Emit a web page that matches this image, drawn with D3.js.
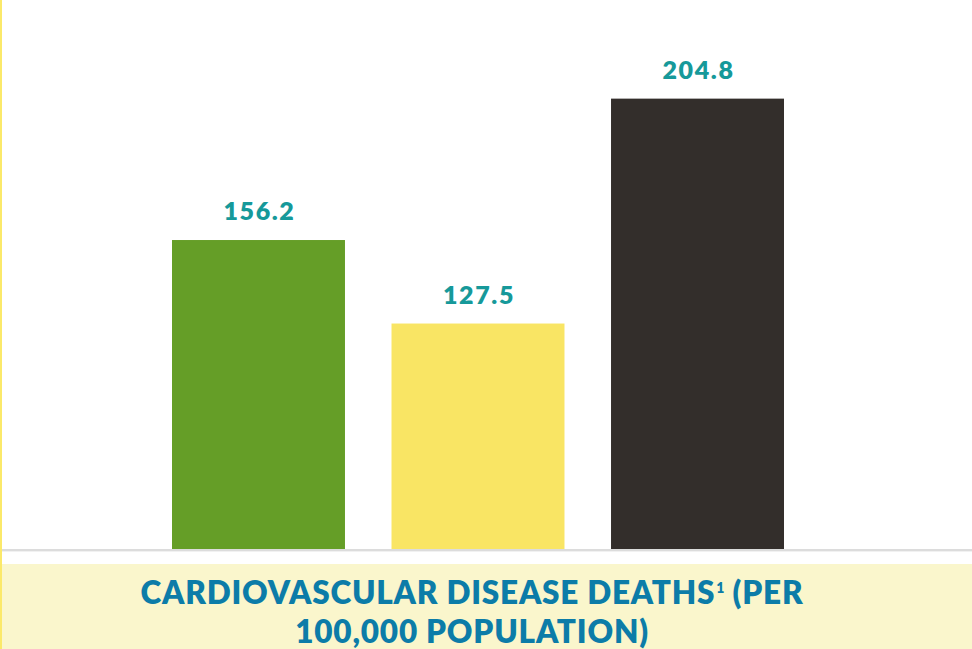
<!DOCTYPE html>
<html>
<head>
<meta charset="utf-8">
<script src="https://cdn.jsdelivr.net/npm/d3@7/dist/d3.min.js"></script>
<style>
  html, body { margin: 0; padding: 0; background: #ffffff; }
  svg { display: block; }
</style>
</head>
<body>
<svg id="chart" width="972" height="649"></svg>
<script>
// Cardiovascular disease deaths per 100,000 population
const categories = ["Group A", "Group B", "Group C"];
const values = [156.2, 127.5, 204.8];
const barColors = ["#659e27", "#f9e564", "#332e2b"];
const valueLabels = ["156.2", "127.5", "204.8"];
const titleLines = [["CARDIOVASCULAR DISEASE DEATHS", "1", " (PER"], ["100,000 POPULATION)"]];

const W = 972, H = 649;
const svg = d3.select("#chart");

const baseY = 549;
const x = d3.scaleBand().domain(categories).range([172, 784]).paddingInner(0.212).paddingOuter(0);
const y = d3.scaleLinear().domain([50, 238.7]).range([baseY, 0]);

// title band
svg.append("rect").attr("x", 0).attr("y", 564).attr("width", W).attr("height", H - 564)
  .attr("fill", "#faf6cc");

// baseline rule
svg.append("rect").attr("x", 2).attr("y", baseY).attr("width", W - 2).attr("height", 2.4)
  .attr("fill", "#dcdcdc");

// left accent rule
svg.append("rect").attr("x", 0).attr("y", 0).attr("width", 2).attr("height", H)
  .attr("fill", "#fbe96a");

// bars
svg.selectAll("rect.bar").data(values).join("rect")
  .attr("class", "bar")
  .attr("x", (d, i) => x(categories[i]))
  .attr("width", x.bandwidth())
  .attr("y", d => y(d))
  .attr("height", d => baseY - y(d))
  .attr("fill", (d, i) => barColors[i]);

// value labels
svg.selectAll("text.val").data(values).join("text")
  .attr("class", "val")
  .attr("x", (d, i) => x(categories[i]) + x.bandwidth() / 2 + 1)
  .attr("y", d => y(d) - 20)
  .attr("text-anchor", "middle")
  .attr("font-family", "Lato, 'Open Sans', sans-serif")
  .attr("font-weight", 800)
  .attr("font-size", 25)
  .attr("letter-spacing", 1.6)
  .attr("fill", "#16999a")
  .text((d, i) => valueLabels[i]);

// title
const title = svg.append("g")
  .attr("font-family", "Lato, 'Open Sans', sans-serif")
  .attr("font-weight", 800)
  .attr("font-size", 31.5)
  .attr("letter-spacing", 0.8)
  .attr("fill", "#0c7ca8")
  .attr("text-anchor", "middle");

const l1 = title.append("text").attr("x", 472).attr("y", 604);
l1.append("tspan").text(titleLines[0][0]);
l1.append("tspan").attr("font-size", 14).attr("letter-spacing", 0).attr("dy", -11).attr("dx", 1).text(titleLines[0][1]);
l1.append("tspan").attr("dy", 11).text(titleLines[0][2]);

title.append("text").attr("x", 472).attr("y", 643).text(titleLines[1][0]);
</script>
</body>
</html>
